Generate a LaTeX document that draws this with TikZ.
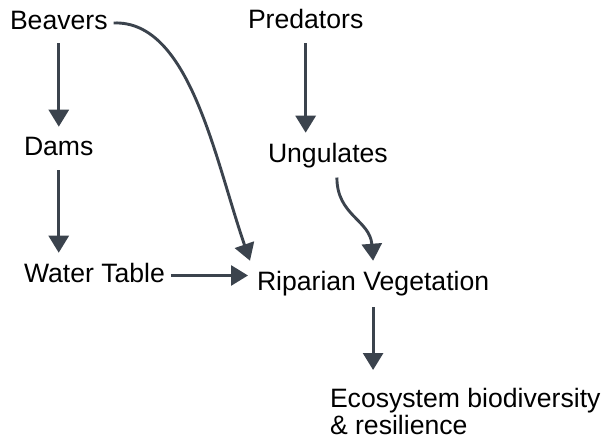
\documentclass[tikz,border=0pt]{standalone}
\usepackage{fontspec}
\setmainfont{Liberation Sans}
\usetikzlibrary{arrows.meta}
\definecolor{arrowc}{HTML}{3B434D}
\tikzset{
  lbl/.style={inner xsep=3pt, inner ysep=5pt, outer xsep=0pt, outer ysep=5pt, font=\fontsize{26.6}{26.8}\selectfont, text=black},
  arr/.style={draw=arrowc, line width=2.9pt, -{Triangle[length=17pt,width=20pt]}}
}
\begin{document}
\begin{tikzpicture}[x=1pt,y=-1pt]
\useasboundingbox (0,0) rectangle (603,439);
\node[lbl, anchor=base west] (beavers) at (7,29) {Beavers};
\node[lbl, anchor=base west] (predators) at (245,28) {Predators};
\node[lbl, anchor=base west] (dams) at (21,155) {Dams};
\node[lbl, anchor=base west] (ungulates) at (265,162) {Ungulates};
\node[lbl, anchor=base west] (water) at (21,282) {Water Table};
\node[lbl, anchor=base west] (riparian) at (254,290) {Riparian Vegetation};
\node[lbl, anchor=north west, align=left] (eco) at (327,378.6) {Ecosystem biodiversity\\\& resilience};
\coordinate (wt) at ([yshift=-3pt]water.east);
\coordinate (ug) at ([xshift=9pt]ungulates.south);

\draw[arr, shorten <=4pt] (beavers.south) -- (beavers.south |- dams.north);
\draw[arr, shorten <=5pt] (dams.south) -- (dams.south |- water.north);
\draw[arr, shorten <=5pt] (predators.south) -- (predators.south |- ungulates.north);
\draw[arr, shorten <=1.5pt, shorten >=8.6pt] (riparian.south) -- (riparian.south |- eco.north);
\draw[arr, shorten <=3pt, shorten >=6pt] (wt) -- (riparian.west |- wt);
\draw[arr] ([xshift=3pt,yshift=-3pt]beavers.east) .. controls (190,20) and (215,160) .. ([xshift=-4pt]riparian.north west);
\draw[arr] (ug) .. controls ([yshift=-38pt]ug) and (370,220) .. (riparian.north);
\end{tikzpicture}
\end{document}
